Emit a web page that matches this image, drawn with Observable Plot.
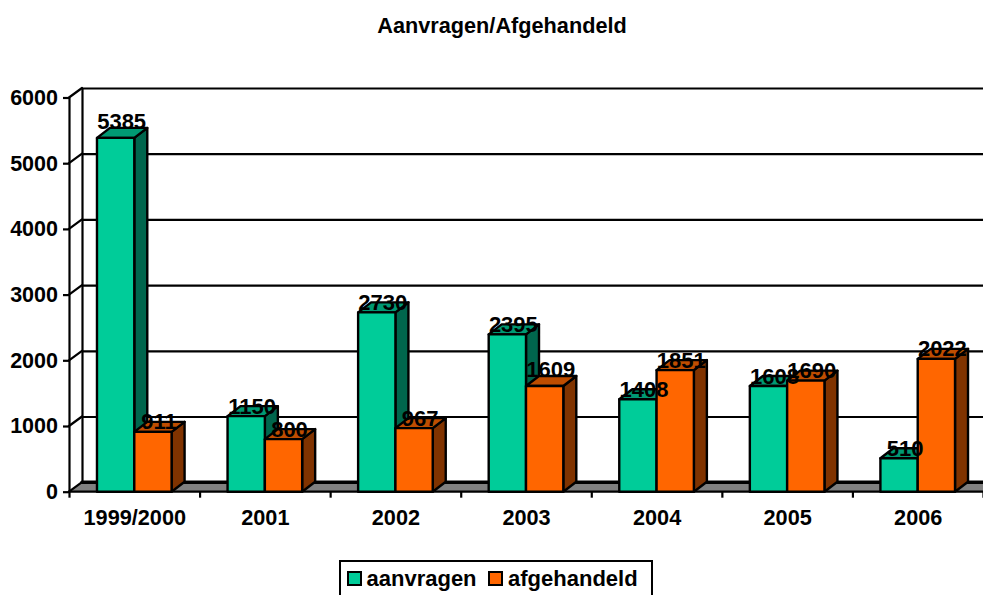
<!DOCTYPE html>
<html>
<head>
<meta charset="utf-8">
<script src="https://cdn.jsdelivr.net/npm/d3@7"></script>
<script src="https://cdn.jsdelivr.net/npm/@observablehq/plot@0.6"></script>
<style>
html,body{margin:0;padding:0;background:#fff;overflow:hidden;width:983px;height:595px;font-family:"Liberation Sans",Arial,sans-serif;font-weight:bold;color:#000}
#title{height:52px;line-height:52px;text-align:center;font-size:21.7px;padding-left:21px;box-sizing:border-box;width:983px}
#chart svg{display:block}
#legend{position:absolute;left:339px;top:560px;width:314px;height:35px;box-sizing:border-box;border:2.5px solid #000;border-bottom:none;display:flex;align-items:center;font-size:22px;padding-left:5.5px}
#legend i{display:block;width:15px;height:15px;box-sizing:border-box;border:2px solid #000;margin-right:5px}
#legend span{margin-right:11.5px}
</style>
</head>
<body>
<div id="title">Aanvragen/Afgehandeld</div>
<div id="chart"></div>
<div id="legend"></div>
<script>
const categories = ["1999/2000","2001","2002","2003","2004","2005","2006"];
const seriesNames = ["aanvragen","afgehandeld"];
const aanvragen = [5385,1150,2730,2395,1408,1608,510];
const afgehandeld = [911,800,967,1609,1851,1690,2022];
const seriesColors = ["#00CC99","#FF6600"];
const yTicks = [0,1000,2000,3000,4000,5000,6000];
const raisedLabels = new Set([5385,1609]);

const DX = 13, DY = -9.5;
const gap = 0.75/3.5;

const rows = [];
categories.forEach((c,i)=>{
  rows.push({i,series:seriesNames[0],value:aanvragen[i],x1:i+gap,x2:i+0.5});
  rows.push({i,series:seriesNames[1],value:afgehandeld[i],x1:i+0.5,x2:i+1-gap});
});

const NS = "http://www.w3.org/2000/svg";
function poly(pts,fill,sw){
  const p = document.createElementNS(NS,"polygon");
  p.setAttribute("points",pts.map(q=>q.join(",")).join(" "));
  p.setAttribute("fill",fill);
  p.setAttribute("stroke","#000");
  p.setAttribute("stroke-width",sw);
  p.setAttribute("stroke-linejoin","round");
  return p;
}
function shade(color,k){
  const c = d3.rgb(color);
  return d3.rgb(c.r*k,c.g*k,c.b*k).formatHex();
}
// Draws each bar as a box: front, top and side faces, from the rect's scaled values
function renderBox(index,scales,values){
  const g = document.createElementNS(NS,"g");
  for(const i of index){
    const x1=values.x1[i],x2=values.x2[i],y1=values.y1[i],y2=values.y2[i],f=values.fill[i];
    const dx=13,dy=-10;
    g.appendChild(poly([[x2,y2],[x2+dx,y2+dy],[x2+dx,y1+dy],[x2,y1]],shade(f,0.5),2.4));
    g.appendChild(poly([[x1,y2],[x1+dx,y2+dy],[x2+dx,y2+dy],[x2,y2]],shade(f,0.75),2.4));
    g.appendChild(poly([[x1,y2],[x2,y2],[x2,y1],[x1,y1]],f,2.4));
  }
  return g;
}
// The chart's floor and the diagonals joining the front axis to the back wall
function renderFrame(index,scales,values,dims){
  const g = document.createElementNS(NS,"g");
  const y0 = scales.y(0), xa = dims.marginLeft, xb = dims.width;
  g.appendChild(poly([[xa,y0],[xa+DX,y0+DY],[xb,y0+DY],[xb,y0]],"#808080",0));
  g.appendChild(poly([[xa+DX,y0+DY],[xb,y0+DY]],"none",3.5));
  g.appendChild(poly([[xa,y0],[xb,y0]],"none",2.2));
  for(const i of index){
    const y = values.y[i];
    g.appendChild(poly([[xa,y],[xa+DX,y+DY]],"none",2.2));
  }
  return g;
}

const labelMark = (data,dy)=>Plot.text(data,{x:d=>(d.x1+d.x2)/2,y:"value",text:d=>String(d.value),dx:5.5,dy,fontSize:22,fill:"#000",lineAnchor:"bottom",textAnchor:"middle"});

const H = 488;
const chart = Plot.plot({
  width:983,height:H,
  marginLeft:69,marginRight:0,marginTop:45.5,marginBottom:48.3,
  style:{fontFamily:'"Liberation Sans",Arial,sans-serif',fontWeight:"bold",background:"#fff",color:"#000",overflow:"hidden"},
  x:{domain:[0,7],axis:null},
  y:{domain:[0,6000],axis:null},
  color:{domain:seriesNames,range:seriesColors},
  marks:[
    Plot.ruleY(yTicks.slice(1),{y:d=>d,dx:DX,dy:DY,stroke:"#000",strokeWidth:2.2}),
    Plot.ruleX([0],{y1:0,y2:6000,dx:DX,dy:DY,stroke:"#000",strokeWidth:2.2}),
    Plot.ruleY(yTicks,{y:d=>d,render:renderFrame}),
    Plot.ruleX([0],{y1:0,y2:6000,stroke:"#000",strokeWidth:2.2}),
    Plot.axisY({ticks:yTicks,tickSize:6,tickPadding:5.5,fontSize:21.5,label:null,strokeWidth:2.2,stroke:"#000",fill:"#000",tickFormat:d=>String(d)}),
    Plot.axisX({ticks:d3.range(8),tickSize:6,label:null,strokeWidth:2.2,stroke:"#000",fill:"none"}),
    Plot.text(categories,{x:(d,i)=>i+0.5,frameAnchor:"bottom",dy:33,lineAnchor:"bottom",text:d=>d,fontSize:21.7,fill:"#000"}),
    Plot.rect(rows,{x1:"x1",x2:"x2",y1:0,y2:"value",fill:"series",render:renderBox}),
    labelMark(rows.filter(d=>!raisedLabels.has(d.value)),-3),
    labelMark(rows.filter(d=>raisedLabels.has(d.value)),-9)
  ]
});
document.getElementById("chart").appendChild(chart);

const lg = document.getElementById("legend");
seriesNames.forEach((n,i)=>{
  const sw = document.createElement("i"); sw.style.background = seriesColors[i]; lg.appendChild(sw);
  const t = document.createElement("span"); t.textContent = n; lg.appendChild(t);
});
</script>
</body>
</html>
